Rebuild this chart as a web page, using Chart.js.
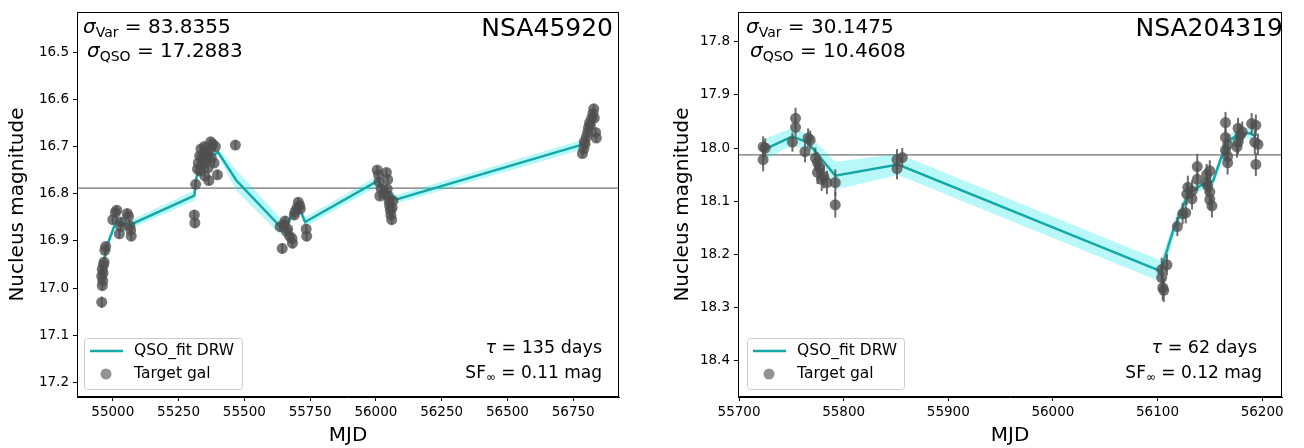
<!DOCTYPE html>
<html>
<head>
<meta charset="utf-8">
<script src="https://cdn.jsdelivr.net/npm/chart.js@4.4.1/dist/chart.umd.min.js"></script>
<style>
  html, body { margin: 0; padding: 0; background: #fff; }
  #wrap { position: relative; width: 1304px; height: 448px; }
  canvas { position: absolute; top: 0; }
  #cL { left: 0; }
  #cR { left: 652px; }
</style>
</head>
<body>
<div id="wrap">
  <canvas id="cL" width="652" height="448"></canvas>
  <canvas id="cR" width="652" height="448"></canvas>
</div>
<script>
  // ── DATA: NSA45920 ───────────────────────────────────────
  const lMjd = [54958,54960,54962,54958,54963,54960,54965,54967,54970,54973,
    55000,55010,55015,55025,55030,55032,55055,55060,55065,55068,55070,
    55310,55312,55315,55322,
    55325,55330,55332,55335,55338,55340,55345,55348,55350,55352,55355,55360,55362,55365,55370,55372,55375,55380,55385,55390,55398,55466,
    55636,55644,55650,55655,55660,55665,55672,55681,55683,55690,55693,55700,55705,55710,55713,55735,55737,
    56005,56010,56012,56015,56020,56030,56040,56043,56045,56047,56050,56052,56055,56057,56060,56062,56065,
    56785,56790,56792,56795,56800,56805,56808,56812,56815,56820,56825,56828,56830,56835,56838];
  const lMag = [17.030,16.995,16.985,16.975,16.968,16.960,16.950,16.945,16.920,16.912,
    16.855,16.840,16.835,16.885,16.870,16.860,16.842,16.848,16.868,16.877,16.890,
    16.845,16.862,16.780,16.748,
    16.735,16.720,16.752,16.705,16.725,16.740,16.715,16.700,16.762,16.730,16.720,16.712,16.745,16.772,16.705,16.690,16.725,16.695,16.735,16.700,16.760,16.697,
    16.870,16.916,16.865,16.858,16.880,16.875,16.890,16.895,16.905,16.845,16.838,16.830,16.818,16.825,16.832,16.875,16.890,
    16.750,16.760,16.775,16.805,16.790,16.800,16.755,16.790,16.770,16.805,16.815,16.825,16.835,16.845,16.855,16.830,16.815,
    16.715,16.705,16.690,16.695,16.680,16.670,16.660,16.650,16.655,16.640,16.630,16.620,16.640,16.670,16.682];
  const lErr = [0.012,0.010,0.010,0.011,0.010,0.010,0.010,0.011,0.010,0.010,
    0.009,0.009,0.010,0.010,0.009,0.009,0.010,0.009,0.010,0.010,0.010,
    0.010,0.010,0.009,0.009,
    0.009,0.009,0.009,0.009,0.009,0.009,0.009,0.009,0.010,0.009,0.009,0.009,0.009,0.010,0.009,0.009,0.009,0.009,0.009,0.009,0.010,0.010,
    0.010,0.011,0.010,0.010,0.010,0.010,0.010,0.010,0.011,0.010,0.010,0.010,0.010,0.010,0.010,0.010,0.011,
    0.009,0.009,0.009,0.009,0.009,0.009,0.009,0.009,0.009,0.009,0.009,0.009,0.009,0.009,0.010,0.009,0.009,
    0.009,0.009,0.009,0.009,0.009,0.009,0.009,0.009,0.009,0.009,0.009,0.010,0.009,0.009,0.009];
  const lFitMjd = [54965,54985,55015,55030,55065,55310,55318,55340,55370,55400,55470,55630,55650,55686,55708,55731,56010,56030,56078,56790];
  const lFitMag = [16.945,16.900,16.855,16.862,16.866,16.804,16.765,16.735,16.722,16.712,16.772,16.866,16.872,16.843,16.829,16.860,16.772,16.790,16.812,16.695];
  const lFitErr = [0.012,0.010,0.008,0.008,0.009,0.011,0.008,0.006,0.006,0.008,0.022,0.018,0.010,0.010,0.009,0.010,0.011,0.008,0.009,0.010];
  const lMean = 16.788;
  const lXTicks = [55000,55250,55500,55750,56000,56250,56500,56750];
  const lYTicks = [16.5,16.6,16.7,16.8,16.9,17.0,17.1,17.2];

  // ── DATA: NSA204319 ──────────────────────────────────────
  const rMjd = [55723,55723,55725,55751,55754,55754,55763,55766,55768,55773,55775,55775,55777,55779,55781,55784,55792,55792,
    55851,55851,55856,
    56104,56104,56105,56106,56109,56119,56124,56127,56128,56129,56133,56133,56138,56138,
    56147,56147,56150,56150,56152,56148,56150,
    56165,56165,56167,56165,56167,56167,
    56177,56179,56177,56176,56181,
    56190,56194,56193,56196,56194];
  const rMag = [17.998,18.022,18.000,17.989,17.961,17.944,18.007,17.981,17.985,18.019,18.046,18.028,18.037,18.059,18.054,18.065,18.065,18.107,
    18.022,18.039,18.018,
    18.229,18.244,18.263,18.268,18.220,18.148,18.124,18.122,18.087,18.074,18.096,18.081,18.059,18.035,
    18.050,18.065,18.083,18.097,18.109,18.072,18.043,
    17.952,17.980,17.994,18.004,18.016,18.028,
    17.963,17.976,17.989,17.998,17.970,
    17.954,17.957,17.989,17.993,18.031];
  const rErr = [0.020,0.022,0.018,0.018,0.018,0.020,0.020,0.018,0.018,0.020,0.022,0.020,0.020,0.022,0.022,0.022,0.025,0.024,
    0.020,0.020,0.018,
    0.022,0.024,0.024,0.022,0.020,0.018,0.020,0.020,0.020,0.022,0.020,0.020,0.022,0.024,
    0.020,0.020,0.022,0.020,0.022,0.020,0.020,
    0.020,0.022,0.020,0.020,0.020,0.022,
    0.020,0.020,0.022,0.020,0.020,
    0.020,0.020,0.022,0.020,0.022];
  const rFitMjd = [55723,55751,55766,55792,55852,56103,56115,56129,56143,56153,56166,56179,56188,56194];
  const rFitMag = [18.004,17.978,17.990,18.052,18.031,18.232,18.155,18.087,18.068,18.063,17.989,17.972,17.972,17.978];
  const rFitErr = [0.020,0.016,0.016,0.026,0.020,0.020,0.014,0.012,0.010,0.010,0.010,0.010,0.010,0.010];
  const rMean = 18.013;
  const rXTicks = [55700,55800,55900,56000,56100,56200];
  const rYTicks = [17.8,17.9,18.0,18.1,18.2,18.3,18.4];

  // ── STYLE ────────────────────────────────────────────────
  const FONT = '"DejaVu Sans", sans-serif';
  const TEAL = '#14a8a6';
  const BAND = 'rgba(0,230,230,0.28)';
  const PT = 'rgba(80,80,80,0.78)';
  const ERRC = 'rgba(85,85,85,0.85)';

  // draws a row of text pieces; returns total width
  function pieces(ctx, x, y, parts, align) {
    const setF = p => { ctx.font = (p.it ? 'italic ' : '') + p.size + 'px ' + FONT; };
    let w = 0;
    parts.forEach(p => { setF(p); w += ctx.measureText(p.t).width; });
    let cx = align === 'right' ? x - w : x;
    ctx.textAlign = 'left';
    ctx.textBaseline = 'alphabetic';
    ctx.fillStyle = '#000';
    parts.forEach(p => {
      setF(p);
      ctx.fillText(p.t, cx, y + (p.dy || 0));
      cx += ctx.measureText(p.t).width;
    });
    return w;
  }

  function panel(id, d) {
    const pts = d.mjd.map((x, i) => ({ x, y: d.mag[i] }));
    const fit = d.fitMjd.map((x, i) => ({ x, y: d.fitMag[i] }));
    const up = d.fitMjd.map((x, i) => ({ x, y: d.fitMag[i] - d.fitErr[i] }));
    const lo = d.fitMjd.map((x, i) => ({ x, y: d.fitMag[i] + d.fitErr[i] }));

    const deco = {
      id: 'deco',
      beforeDatasetsDraw(c) {
        const ctx = c.ctx, a = c.chartArea, yy = c.scales.y.getPixelForValue(d.mean);
        ctx.save();
        ctx.strokeStyle = '#707070';
        ctx.lineWidth = 1.3;
        ctx.beginPath(); ctx.moveTo(a.left, yy); ctx.lineTo(a.right, yy); ctx.stroke();
        ctx.restore();
      },
      beforeDatasetDraw(c, args) {
        if (args.index !== 0) return;
        const ctx = c.ctx, sx = c.scales.x, sy = c.scales.y;
        ctx.save();
        ctx.strokeStyle = ERRC;
        ctx.lineWidth = 2;
        d.mjd.forEach((m, i) => {
          const px = sx.getPixelForValue(m);
          ctx.beginPath();
          ctx.moveTo(px, sy.getPixelForValue(d.mag[i] - d.err[i]));
          ctx.lineTo(px, sy.getPixelForValue(d.mag[i] + d.err[i]));
          ctx.stroke();
        });
        ctx.restore();
      },
      afterDraw(c) {
        const ctx = c.ctx, a = c.chartArea;
        ctx.save();
        // frame
        ctx.strokeStyle = '#000';
        ctx.lineWidth = 1;
        ctx.strokeRect(Math.round(a.left) + 0.5, Math.round(a.top) + 0.5, Math.round(a.right - a.left) - 1, Math.round(a.bottom - a.top) - 1);

        // axis titles
        ctx.fillStyle = '#000';
        ctx.font = '20px ' + FONT;
        ctx.textAlign = 'center';
        ctx.textBaseline = 'middle';
        ctx.fillText('MJD', (a.left + a.right) / 2, 436);
        ctx.save();
        ctx.translate(d.yLabelX, (a.top + a.bottom) / 2);
        ctx.rotate(-Math.PI / 2);
        ctx.fillText('Nucleus magnitude', 0, 0);
        ctx.restore();

        // title
        ctx.font = '25px ' + FONT;
        ctx.textAlign = 'right';
        ctx.textBaseline = 'alphabetic';
        ctx.fillText(d.name, d.nameX, 36);

        // sigma values
        pieces(ctx, d.sigX, 33, [
          { t: 'σ', it: true, size: 20 }, { t: 'Var', size: 14, dy: 4 },
          { t: ' = ' + d.sigVar, size: 20 }]);
        pieces(ctx, d.sigX + 4, 57, [
          { t: 'σ', it: true, size: 20 }, { t: 'QSO', size: 14, dy: 4 },
          { t: ' = ' + d.sigQso, size: 20 }]);

        // tau, SF
        pieces(ctx, d.tauX, 353, [{ t: 'τ', it: true, size: 17.5 }, { t: ' = ' + d.tau + ' days', size: 17.5 }], 'right');
        pieces(ctx, d.sfX, 378, [{ t: 'SF', size: 17 }, { t: '∞', size: 12, dy: 3 }, { t: ' = ' + d.sf + ' mag', size: 17 }], 'right');

        // legend
        const L = d.leg;
        ctx.fillStyle = 'rgba(255,255,255,0.8)';
        ctx.strokeStyle = '#cccccc';
        ctx.lineWidth = 1;
        ctx.beginPath();
        ctx.roundRect(L.x + 0.5, L.y + 0.5, L.w, L.h, 3);
        ctx.fill(); ctx.stroke();
        ctx.strokeStyle = TEAL;
        ctx.lineWidth = 2.5;
        ctx.beginPath(); ctx.moveTo(L.x + 6, L.y + 13); ctx.lineTo(L.x + 39, L.y + 13); ctx.stroke();
        ctx.fillStyle = 'rgba(80,80,80,0.62)';
        ctx.beginPath(); ctx.arc(L.x + 22, L.y + 36, 5.5, 0, Math.PI * 2); ctx.fill();
        ctx.fillStyle = '#000';
        ctx.font = '15.5px ' + FONT;
        ctx.textAlign = 'left';
        ctx.textBaseline = 'middle';
        ctx.fillText('QSO_fit DRW', L.x + 50, L.y + 13);
        ctx.fillText('Target gal', L.x + 50, L.y + 36);
        ctx.restore();
      }
    };

    const axisCommon = {
      grid: { drawOnChartArea: false, drawTicks: true, tickLength: 4, color: '#000', tickWidth: 1 },
      border: { display: true, color: '#000', width: 1 },
    };

    new Chart(document.getElementById(id), {
      type: 'line',
      data: {
        datasets: [
          { data: pts, showLine: false, pointRadius: 5.5, pointHoverRadius: 5.5, pointBackgroundColor: PT, pointBorderWidth: 0, order: 0 },
          { data: fit, borderColor: TEAL, borderWidth: 2.5, pointRadius: 0, tension: 0, order: 1 },
          { data: up, borderColor: 'transparent', borderWidth: 0, pointRadius: 0, fill: '+1', backgroundColor: BAND, order: 2 },
          { data: lo, borderColor: 'transparent', borderWidth: 0, pointRadius: 0, fill: false, order: 3 }
        ]
      },
      options: {
        responsive: false,
        animation: false,
        events: [],
        layout: { padding: { left: 0, right: d.padR, top: 4, bottom: 0 } },
        plugins: { legend: { display: false }, tooltip: { enabled: false } },
        scales: {
          x: {
            type: 'linear', min: d.xMin, max: d.xMax, ...axisCommon,
            afterBuildTicks: s => { s.ticks = d.xTicks.map(v => ({ value: v })); },
            afterFit: s => { s.height = 51; },
            ticks: { color: '#000', autoSkip: false, maxRotation: 0, padding: 3, font: { family: FONT, size: 13.5 }, callback: v => String(v) }
          },
          y: {
            type: 'linear', reverse: true, min: d.yMin, max: d.yMax, ...axisCommon,
            afterBuildTicks: s => { s.ticks = d.yTicks.map(v => ({ value: v })); },
            afterFit: s => { s.width = d.yW; },
            ticks: { color: '#000', autoSkip: false, padding: 4, font: { family: FONT, size: 13.5 }, callback: v => v.toFixed(1) }
          }
        }
      },
      plugins: [deco]
    });
  }

  panel('cL', {
    mjd: lMjd, mag: lMag, err: lErr, fitMjd: lFitMjd, fitMag: lFitMag, fitErr: lFitErr, mean: lMean,
    xTicks: lXTicks, yTicks: lYTicks, xMin: 54864, xMax: 56924, yMin: 16.415, yMax: 17.231,
    yW: 77, padR: 33, yLabelX: 18,
    name: 'NSA45920', nameX: 613, sigX: 83, sigVar: '83.8355', sigQso: '17.2883',
    tau: '135', sf: '0.11', tauX: 602, sfX: 602,
    leg: { x: 84, y: 338, w: 158, h: 51 }
  });

  panel('cR', {
    mjd: rMjd, mag: rMag, err: rErr, fitMjd: rFitMjd, fitMag: rFitMag, fitErr: rFitErr, mean: rMean,
    xTicks: rXTicks, yTicks: rYTicks, xMin: 55699, xMax: 56219, yMin: 17.744, yMax: 18.469,
    yW: 86, padR: 22, yLabelX: 31,
    name: 'NSA204319', nameX: 631, sigX: 94, sigVar: '30.1475', sigQso: '10.4608',
    tau: '62', sf: '0.12', tauX: 605, sfX: 610,
    leg: { x: 95, y: 338, w: 157, h: 51 }
  });
</script>
</body>
</html>
